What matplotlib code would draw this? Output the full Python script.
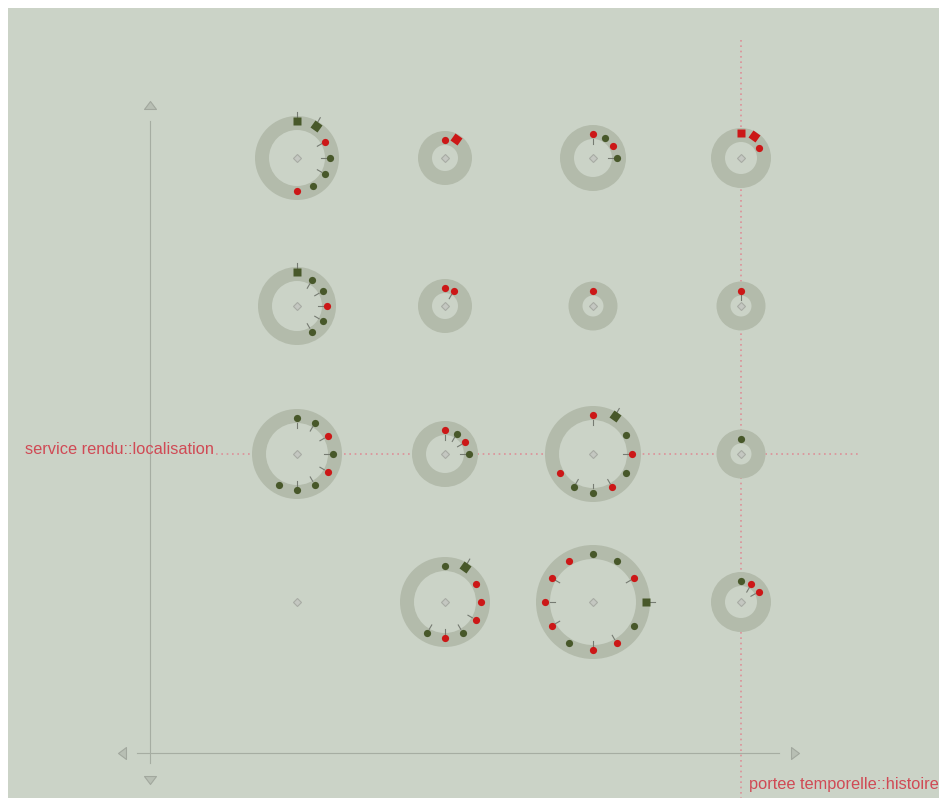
import matplotlib
matplotlib.use("Agg")
import matplotlib.pyplot as plt
import numpy as np
from matplotlib.patches import Circle, Rectangle
from matplotlib.markers import MarkerStyle
from matplotlib.path import Path
from matplotlib.transforms import Affine2D

# ---- data -------------------------------------------------------------
# outer ring radius (px) for each cell of the 4x4 grid, row by row
ring_outer = [
    [42, 27, 33, 30],
    [39, 27, 24.5, 24.5],
    [45, 33, 48, 24.5],
    [0, 45, 57, 30],
]

# markers around each ring, one token per clock position (0 = 12 o'clock)
# token: colour (r/g), shape (o = dot, s = square), tick (| = yes, . = no)
row0_marks = ["gs| gs| ro| go| go| go. ro.", "ro. rs.", "ro| go. ro. go|", "rs. rs. ro."]
row1_marks = ["gs| go| go| ro| go| go|", "ro. ro|", "ro.", "ro|"]
row2_marks = ["go| go| ro| go| ro| go| go| go.",
              "ro| go| ro| go|",
              "ro| gs| go. ro| go. ro| go| go| ro.",
              "go."]
row3_marks = ["",
              "go. gs| ro. ro. ro| go| ro| go|",
              "go. go. ro| gs| go. ro| ro| go. ro| ro| ro| ro.",
              "go. ro| ro|"]
grid_marks = [row0_marks, row1_marks, row2_marks, row3_marks]

highlight_row = 2
highlight_col = 3
row_label = "service rendu::localisation"
col_label = "portee temporelle::histoire"

# ---- style ------------------------------------------------------------
BG = "#cbd3c7"
RING = "#b3bbab"
RED = "#cc1717"
GREEN = "#48582a"
TICK = "#767b72"
AXIS = "#a6ada2"
HILITE = "#de8f98"
LABEL = "#d04a55"
COLORS = {"r": RED, "g": GREEN}

PX = 1 / 148.0          # one pixel in grid units (cells are 148 px apart)
THICK = 14              # ring thickness in px

fig = plt.figure(figsize=(9.39, 7.98), dpi=100)
fig.patch.set_facecolor("white")
fig.patches.append(Rectangle((8 / 939, 0), 931 / 939, 790 / 798,
                             transform=fig.transFigure, facecolor=BG,
                             edgecolor="none", zorder=-10))
ax = fig.add_axes([0, 0, 1, 1])
ax.set_facecolor("none")
ax.set_xlim(-297 * PX, 642 * PX)
ax.set_ylim(640 * PX, -158 * PX)
ax.axis("off")

# highlight lines
dots = (0, (1.0, 2.2))
ax.plot([highlight_col, highlight_col], [-118 * PX, 640 * PX], color=HILITE,
        lw=1.2, ls=dots, zorder=1)
ax.plot([-81 * PX, 563 * PX], [highlight_row, highlight_row], color=HILITE,
        lw=1.2, ls=dots, zorder=1)

# axes lines and arrow heads
ax_x = -147 * PX
ax_y = 595 * PX
ax.plot([ax_x, ax_x], [-37 * PX, 605 * PX], color=AXIS, lw=0.8, zorder=1)
ax.plot([-160 * PX, 482 * PX], [ax_y, ax_y], color=AXIS, lw=0.8, zorder=1)
tri_up = Path([(-6, -4), (6, -4), (0, 4), (-6, -4)])
tri_down = Path([(-6, 4), (6, 4), (0, -4), (-6, 4)])
tri_left = Path([(4, -6), (4, 6), (-4, 0), (4, -6)])
tri_right = Path([(-4, -6), (-4, 6), (4, 0), (-4, -6)])
arrow_kw = dict(ms=8.6, mfc="#b8bfb4", mec="#a2a89e", mew=0.8, ls="none", zorder=2)
ax.plot(ax_x, -53 * PX, marker=tri_up, **arrow_kw)
ax.plot(ax_x, 622 * PX, marker=tri_down, **arrow_kw)
ax.plot(-175 * PX, ax_y, marker=tri_left, **arrow_kw)
ax.plot(498 * PX, ax_y, marker=tri_right, **arrow_kw)

# rings and markers
for r, row in enumerate(grid_marks):
    for c, spec in enumerate(row):
        outer = ring_outer[r][c]
        if outer > 0:
            ax.add_patch(Circle((c, r), outer * PX, facecolor=RING,
                                edgecolor="none", zorder=3))
            ax.add_patch(Circle((c, r), (outer - THICK) * PX, facecolor=BG,
                                edgecolor="none", zorder=3))
        ax.plot(c, r, marker="D", ms=4.4, mfc="#c4c7c1", mec="#a8aca4",
                mew=0.8, zorder=4)
        mid = outer - THICK / 2
        for pos, tok in enumerate(spec.split()):
            ang = np.deg2rad(pos * 30)
            dx, dy = np.sin(ang), -np.cos(ang)
            colour = COLORS[tok[0]]
            if tok[1] == "s":
                rad = mid + 2.5
                t0, t1 = mid + 6.5, mid + 11.5
                m = MarkerStyle("s", transform=Affine2D().rotate_deg(-pos * 30))
                ms = 5.9
            else:
                rad = mid - 2.4
                t0, t1 = mid - 11.5, mid - 6.5
                m = "o"
                ms = 5.2
            if tok[2] == "|":
                ax.plot([c + dx * t0 * PX, c + dx * t1 * PX],
                        [r + dy * t0 * PX, r + dy * t1 * PX],
                        color=TICK, lw=0.8, zorder=4)
            ax.plot(c + dx * rad * PX, r + dy * rad * PX, marker=m, ms=ms,
                    mfc=colour, mec="none", ls="none", zorder=5)

# labels
ax.text(-272 * PX, highlight_row, row_label, color=LABEL, fontsize=11.8,
        family="Liberation Sans", ha="left", va="baseline", zorder=6)
ax.text(highlight_col + 8 * PX, 631 * PX, col_label, color=LABEL, fontsize=11.8,
        family="Liberation Sans", ha="left", va="baseline", zorder=6)

fig.savefig("out.png", dpi=100, facecolor=fig.get_facecolor())
